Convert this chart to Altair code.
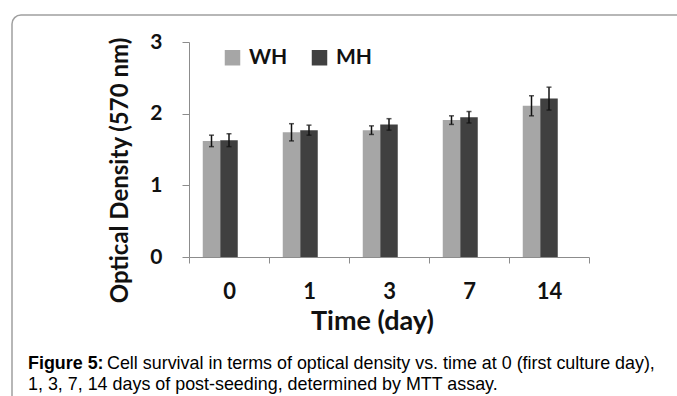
import altair as alt
import pandas as pd

days = ["0", "1", "3", "7", "14"]
series = ["WH", "MH"]
wh_vals = [1.62, 1.74, 1.77, 1.91, 2.11]
mh_vals = [1.63, 1.77, 1.85, 1.95, 2.21]
wh_err = [0.08, 0.12, 0.06, 0.06, 0.14]
mh_err = [0.09, 0.07, 0.08, 0.08, 0.16]
colors = ["#a6a6a6", "#404040"]

caption_bold = "Figure 5:"
caption_line1 = "Cell survival in terms of optical density vs. time at 0 (first culture day),"
caption_line2 = "1, 3, 7, 14 days of post-seeding, determined by MTT assay."

rows = []
for d, v, e in zip(days, wh_vals, wh_err):
    rows.append({"day": d, "series": "WH", "od": v, "lo": v - e, "hi": v + e})
for d, v, e in zip(days, mh_vals, mh_err):
    rows.append({"day": d, "series": "MH", "od": v, "lo": v - e, "hi": v + e})
df = pd.DataFrame(rows)

FONT = "Lato"

x_enc = alt.X(
    "day:N",
    sort=days,
    scale=alt.Scale(paddingInner=0, paddingOuter=0),
    axis=alt.Axis(
        title="Time (day)",
        labelAngle=0,
        labelFont=FONT,
        labelFontWeight="bold",
        labelFontSize=22,
        labelColor="#111",
        labelPadding=18,
        tickBand="extent",
        tickSize=6,
        tickColor="#8c8c8c",
        domainColor="#8c8c8c",
        titleFont=FONT,
        titleFontWeight="bold",
        titleFontSize=27,
        titleColor="#111",
        titleX=183,
        titleY=64,
        titleAlign="center",
        titleBaseline="middle",
    ),
)
xoff = alt.XOffset(
    "series:N",
    scale=alt.Scale(domain=["WH", "MH", "_"], paddingInner=0, paddingOuter=0.786),
)
y_scale = alt.Scale(domain=[0, 3], nice=False)

bars = alt.Chart(df).mark_bar().encode(
    x=x_enc,
    xOffset=xoff,
    y=alt.Y(
        "od:Q",
        scale=y_scale,
        axis=alt.Axis(
            title="Optical Density (570 nm)",
            values=[0, 1, 2, 3],
            format="d",
            grid=False,
            labelFont=FONT,
            labelFontWeight="bold",
            labelFontSize=21,
            labelColor="#111",
            labelPadding=20,
            tickSize=7,
            tickColor="#8c8c8c",
            domainColor="#8c8c8c",
            titleFont=FONT,
            titleFontWeight="bold",
            titleFontSize=24,
            titleColor="#111",
            titleAngle=-90,
            titleX=-69,
            titleY=128,
            titleAlign="center",
            titleBaseline="middle",
        ),
    ),
    color=alt.Color(
        "series:N",
        scale=alt.Scale(domain=series, range=colors),
        legend=alt.Legend(
            title=None,
            orient="none",
            legendX=33,
            legendY=5,
            direction="horizontal",
            symbolType="square",
            symbolSize=240,
            symbolStrokeWidth=0,
            labelFont=FONT,
            labelFontWeight="bold",
            labelFontSize=21,
            labelColor="#111",
            labelOffset=6,
            columnPadding=21,
        ),
    ),
)

err_rule = alt.Chart(df).mark_rule(color="#111", strokeWidth=1.5).encode(
    x=alt.X("day:N", sort=days),
    xOffset=xoff,
    y=alt.Y("lo:Q", scale=y_scale),
    y2="hi:Q",
)
cap_hi = alt.Chart(df).mark_tick(color="#111", thickness=1.5, size=5).encode(
    x=alt.X("day:N", sort=days),
    xOffset=xoff,
    y=alt.Y("hi:Q", scale=y_scale),
)
cap_lo = alt.Chart(df).mark_tick(color="#111", thickness=1.5, size=5).encode(
    x=alt.X("day:N", sort=days),
    xOffset=xoff,
    y=alt.Y("lo:Q", scale=y_scale),
)

one = pd.DataFrame({"k": [0]})
frame = alt.Chart(one).mark_rect(
    fill=None, stroke="#a0a0a0", strokeWidth=1.5, cornerRadius=9
).encode(
    x=alt.value(-177), x2=alt.value(540), y=alt.value(-27), y2=alt.value(420)
)

cap_font = "Liberation Sans, Arial, sans-serif"
CAP_SIZE = 17.9
cap1b = alt.Chart(one).mark_text(
    align="left", baseline="alphabetic", font=cap_font, fontSize=CAP_SIZE,
    fontWeight="bold", color="#000"
).encode(x=alt.value(28 - 189), y=alt.value(369 - 42), text=alt.value(caption_bold))
cap1 = alt.Chart(one).mark_text(
    align="left", baseline="alphabetic", font=cap_font, fontSize=CAP_SIZE, color="#000"
).encode(x=alt.value(107 - 189), y=alt.value(369 - 42), text=alt.value(caption_line1))
cap2 = alt.Chart(one).mark_text(
    align="left", baseline="alphabetic", font=cap_font, fontSize=CAP_SIZE, color="#000"
).encode(x=alt.value(28 - 189), y=alt.value(390 - 42), text=alt.value(caption_line2))

chart = (
    alt.layer(frame, bars, err_rule, cap_hi, cap_lo, cap1b, cap1, cap2)
    .properties(
        width=400,
        height=215,
        autosize=alt.AutoSizeParams(type="none"),
        padding={"left": 189, "top": 42, "right": 88, "bottom": 139},
        background="white",
    )
    .configure_view(stroke=None)
)

chart.save("out.html", embed_options={"renderer": "svg", "actions": False})
